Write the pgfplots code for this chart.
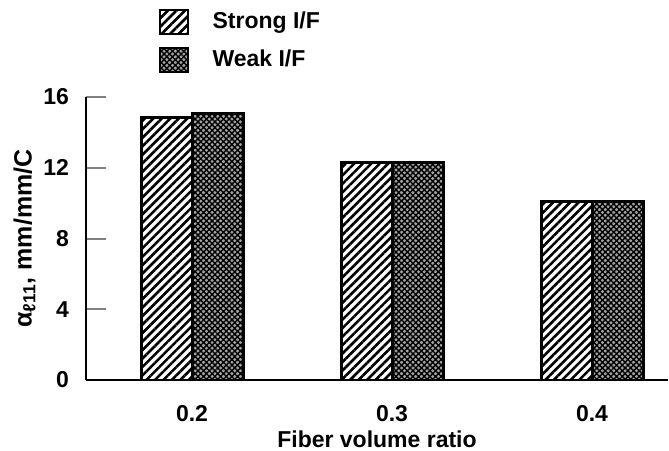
\documentclass[border=0pt]{standalone}
\usepackage{fontspec}
\setmainfont{Liberation Sans}
\usepackage{pgfplots}
\pgfplotsset{compat=1.18}
\usetikzlibrary{patterns.meta}
\begin{document}
\begin{tikzpicture}
\begin{axis}[
  scale only axis,
  width=291pt, height=141.5pt,
  xmin=-0.53, xmax=2.38,
  ymin=0, ymax=16,
  axis x line=bottom, axis y line=left,
  axis line style={-, line width=1.2pt},
  ytick={0,4,8,12,16},
  xtick={0,1,2},
  xticklabels={0.2,0.3,0.4},
  x tick style={draw=none},
  y tick style={line width=1pt},
  major tick length=10pt,
  tick align=inside,
  ybar=0pt, bar width=25.5pt,
  font=\bfseries\fontsize{11.5}{13}\selectfont,
  tick label style={font=\bfseries\fontsize{11.5}{13}\selectfont},
  /pgf/number format/assume math mode=true,
  yticklabel style={xshift=-5pt},
  xticklabel style={yshift=1pt},
  xlabel={Fiber volume ratio},
  ylabel={α\textsubscript{ℓ11}, mm/mm/C},
  xlabel style={yshift=2pt},
  ylabel style={yshift=-3pt, font=\bfseries\fontsize{12.5}{14}\selectfont},
  legend style={draw=none, fill=none, at={(0.124,1.33)}, anchor=north west,
    font=\bfseries\fontsize{11.5}{13}\selectfont, row sep=1pt, inner sep=0pt,
    nodes={inner sep=4pt}},
  legend cell align=left,
  legend image code/.code={\draw[#1, line width=1pt] (0pt,-6pt) rectangle (14pt,6pt);},
]
\addplot[draw=black, line width=1.5pt, fill=white,
  postaction={pattern={Lines[angle=45,distance=3pt,line width=1.3pt]}}]
  coordinates {(0,14.86) (1,12.3) (2,10.1)};
\addplot[draw=black, line width=1.5pt, fill=gray!70,
  postaction={pattern={Hatch[angle=45,distance=2pt,line width=0.7pt]}}]
  coordinates {(0,15.05) (1,12.3) (2,10.12)};
\legend{\hspace*{8pt}Strong I/F, \hspace*{8pt}Weak I/F}
\end{axis}
\pgfresetboundingbox
\path (-43pt,-35pt) rectangle (291.5pt,190pt);
\end{tikzpicture}
\end{document}
